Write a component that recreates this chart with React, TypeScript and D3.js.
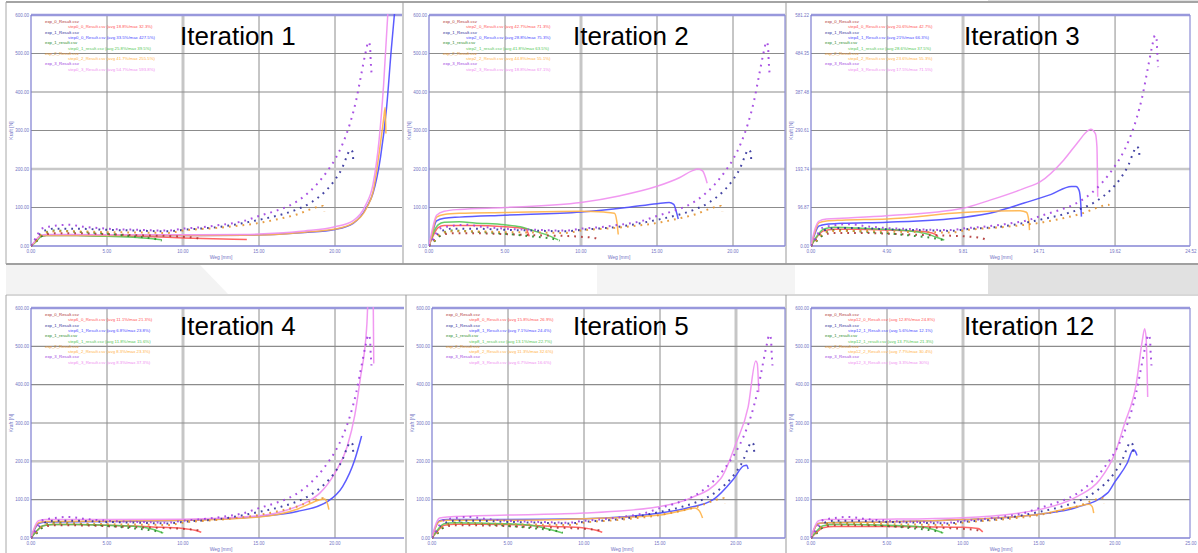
import React from 'react';
import * as d3 from 'd3';

type Pt = [number, number];

// ---- experimental curves (identical in every iteration) ----
const expRed: Pt[] = [[0, 0], [0.3, 12], [0.8, 28], [1.5, 33], [3, 33], [5, 31], [7, 28], [9, 26], [10, 24], [11, 20], [11.3, 15]];
const expNavy: Pt[] = [[0, 0], [0.3, 15], [0.8, 38], [1.5, 45], [3, 45], [5, 42], [7, 40], [9, 38], [10, 42], [12.5, 50], [15, 68], [16.5, 82], [17.5, 95], [18.5, 115], [19.3, 140], [20, 172], [20.5, 205], [20.8, 235], [21, 250], [21.15, 245], [21.2, 222]];
const expGreen: Pt[] = [[0, 0], [0.3, 10], [1, 35], [1.5, 40], [3, 37], [5, 32], [6.5, 26], [7.5, 22], [8.2, 18], [8.6, 14]];
const expOrange: Pt[] = [[0, 0], [0.3, 12], [0.8, 33], [1.5, 38], [3, 38], [5, 36], [7, 35], [9, 34], [10, 40], [12.5, 48], [15, 60], [16.5, 72], [17.5, 82], [18.5, 97], [19, 103], [19.2, 104], [19.3, 90]];
const expPurple: Pt[] = [[0, 0], [0.3, 20], [0.7, 45], [1.5, 52], [2.5, 55], [3.5, 50], [5, 45], [7, 42], [9, 40], [10, 45], [11, 48], [12.5, 55], [14, 65], [15, 78], [16, 90], [17, 105], [18, 130], [18.8, 160], [19.5, 195], [20, 225], [20.5, 265], [21, 320], [21.4, 380], [21.7, 440], [22, 500], [22.2, 530], [22.3, 520], [22.35, 480], [22.4, 450]];
const expNames = ['exp_0_Result.csv', 'exp_1_Result.csv', 'exp_1_result.csv', 'exp_2_Result.csv', 'exp_3_Result.csv'];

// ---- simulation curves per iteration: red, blue, green, orange, pink ----
const it1Red: Pt[] = [[0, 0], [0.3, 12], [0.6, 25], [1, 27], [3, 27], [6, 26], [8, 24], [10, 21], [12, 19], [14.2, 17]];
const it1Blue: Pt[] = [[0, 0], [0.3, 12], [0.6, 25], [1, 28], [3, 28], [6, 27], [10, 27], [14, 28], [16, 30], [18, 35], [20, 43], [21.2, 59], [22.1, 102], [22.5, 137], [23, 232], [23.4, 362], [23.7, 509], [23.95, 620]];
const it1Green: Pt[] = [[0, 0], [0.3, 10], [0.7, 25], [1, 27], [3, 27], [5, 25], [7, 22], [8, 19], [8.6, 16]];
const it1Orange: Pt[] = [[0, 0], [0.3, 12], [0.6, 25], [1, 28], [3, 28], [6, 27], [10, 27], [14, 28], [16, 30], [18, 36], [20, 44], [21.2, 60], [22.1, 100], [22.5, 140], [22.9, 240], [23.2, 330], [23.3, 360], [23.35, 292]];
const it1Pink: Pt[] = [[0, 0], [0.3, 14], [0.6, 27], [1, 30], [3, 30], [6, 29], [10, 29], [14, 30], [16, 33], [18, 39], [20, 50], [21.2, 66], [22, 105], [22.5, 160], [22.9, 275], [23.2, 420], [23.5, 620]];

const it2Red: Pt[] = [[0, 0], [0.2, 20], [0.6, 48], [1, 53], [3, 53], [5, 50], [6, 47], [6.4, 44], [6.5, 35], [6.6, 25]];
const it2Blue: Pt[] = [[0, 0], [0.2, 30], [0.5, 65], [1, 72], [2, 75], [5, 80], [10, 88], [13, 100], [15, 110], [15.8, 113], [16.1, 108], [16.3, 85], [16.4, 70]];
const it2Green: Pt[] = [[0, 0], [0.2, 25], [0.6, 55], [1, 62], [2, 63], [3, 60], [5, 55], [6, 50], [7, 38], [8, 25], [8.5, 16]];
const it2Orange: Pt[] = [[0, 0], [0.2, 30], [0.5, 75], [1, 82], [2, 85], [5, 87], [10, 90], [11.5, 88], [12.2, 85], [12.35, 65], [12.45, 30]];
const it2Pink: Pt[] = [[0, 0], [0.2, 40], [0.5, 80], [1, 90], [2, 95], [5, 100], [10, 113], [12.5, 130], [15, 155], [16.5, 178], [17.3, 195], [17.7, 200], [18, 195], [18.3, 163]];

const it3Red: Pt[] = [[0, 0], [0.3, 18], [0.8, 38], [1.5, 42], [3, 42], [4.9, 40], [6.5, 38], [7.5, 35], [8, 30], [8.2, 23]];
const it3Blue: Pt[] = [[0, 0], [0.2, 25], [0.5, 50], [1, 55], [2, 57], [4.9, 60], [9.8, 72], [12, 87], [13.75, 108], [15.5, 130], [16.8, 150], [17.1, 150], [17.3, 140], [17.4, 110], [17.45, 74]];
const it3Green: Pt[] = [[0, 0], [0.3, 20], [0.8, 42], [1.5, 47], [3, 45], [4.9, 42], [6.5, 37], [7.5, 30], [8.1, 22], [8.6, 15]];
const it3Orange: Pt[] = [[0, 0], [0.2, 28], [0.5, 58], [1, 63], [2, 65], [4.9, 68], [9.8, 84], [12, 88], [13.5, 89], [13.9, 85], [14.05, 65], [14.1, 40]];
const it3Pink: Pt[] = [[0, 0], [0.2, 35], [0.5, 62], [1, 68], [2, 70], [4.9, 76], [9.8, 95], [11.6, 116], [13.75, 145], [14.8, 162], [16.3, 216], [17.3, 265], [17.8, 288], [18.05, 294], [18.35, 283], [18.45, 250], [18.5, 124]];

const it4Red: Pt[] = [[0, 0], [0.3, 15], [0.8, 32], [1.5, 35], [3, 35], [5, 33], [8, 29], [10, 25], [10.8, 20], [11.2, 15]];
const it4Blue: Pt[] = [[0, 0], [0.2, 20], [0.5, 38], [1, 42], [5, 43], [10, 46], [15, 56], [17.5, 69], [19.5, 95], [20.5, 134], [21.3, 204], [21.75, 266]];
const it4Green: Pt[] = [[0, 0], [0.3, 15], [0.8, 32], [1.5, 35], [3, 35], [5, 33], [7, 30], [8, 23], [8.7, 13]];
const it4Orange: Pt[] = [[0, 0], [0.2, 22], [0.5, 40], [1, 43], [5, 44], [10, 46], [15, 55], [17.5, 75], [18.5, 92], [19, 100], [19.3, 102], [19.5, 90], [19.6, 74]];
const it4Pink: Pt[] = [[0, 0], [0.2, 25], [0.5, 45], [1, 48], [5, 48], [10, 49], [15, 58], [17, 75], [18.2, 95], [19, 117], [20, 170], [20.8, 238], [21.3, 320], [21.65, 412], [22.1, 559], [22.25, 690], [22.5, 690], [22.55, 455]];

const it5Red: Pt[] = [[0, 0], [0.3, 15], [0.8, 33], [1.5, 36], [3, 36], [5, 35], [8, 30], [10, 26], [10.8, 20], [11.2, 15]];
const it5Blue: Pt[] = [[0, 0], [0.2, 25], [0.5, 45], [1, 48], [5, 48], [10, 50], [15, 65], [17, 80], [18.5, 100], [19.8, 152], [20.5, 188], [20.7, 190], [20.8, 180]];
const it5Green: Pt[] = [[0, 0], [0.3, 18], [0.8, 37], [1.5, 40], [3, 39], [5, 37], [6.5, 33], [7.5, 25], [8.6, 13]];
const it5Orange: Pt[] = [[0, 0], [0.2, 25], [0.5, 43], [1, 46], [5, 46], [10, 50], [15, 60], [16.5, 72], [17.3, 78], [17.6, 70], [17.8, 52]];
const it5Pink: Pt[] = [[0, 0], [0.2, 30], [0.5, 52], [1, 55], [5, 60], [10, 65], [15, 82], [17, 104], [19, 155], [20, 247], [20.8, 342], [21.3, 462], [21.4, 455], [21.5, 381]];

const it12Red: Pt[] = [[0, 0], [0.3, 12], [0.8, 27], [1.5, 30], [3, 30], [5, 30], [8, 29], [10, 28], [11, 25], [11.3, 16]];
const it12Blue: Pt[] = [[0, 0], [0.2, 22], [0.5, 38], [1, 40], [5, 42], [10, 48], [15, 62], [17.5, 80], [19.5, 117], [20, 147], [20.8, 195], [21.2, 230], [21.35, 225], [21.45, 215]];
const it12Green: Pt[] = [[0, 0], [0.3, 15], [0.8, 32], [1.5, 35], [3, 35], [5, 33], [7, 30], [8, 23], [8.7, 13]];
const it12Orange: Pt[] = [[0, 0], [0.2, 22], [0.5, 38], [1, 40], [5, 42], [10, 48], [15, 62], [17.5, 82], [18.3, 88], [18.5, 82], [18.6, 65]];
const it12Pink: Pt[] = [[0, 0], [0.2, 25], [0.5, 45], [1, 48], [5, 49], [10, 53], [15, 74], [17.5, 108], [19, 152], [20, 221], [20.6, 295], [21.4, 403], [21.8, 516], [21.95, 546], [22.05, 520], [22.15, 368]];

const simNames1 = ['step0_0_Result.csv (avg 18.8%/max 32.3%)', 'step0_0_Result.csv (avg 33.5%/max 427.5%)', 'step0_1_result.csv (avg 25.8%/max 39.5%)', 'step0_2_Result.csv (avg 41.7%/max 255.5%)', 'step0_3_Result.csv (avg 54.7%/max 593.8%)'];
const simNames2 = ['step2_0_Result.csv (avg 42.7%/max 71.3%)', 'step2_0_Result.csv (avg 28.8%/max 75.3%)', 'step2_1_result.csv (avg 41.8%/max 63.5%)', 'step2_2_Result.csv (avg 44.8%/max 55.1%)', 'step2_3_Result.csv (avg 18.8%/max 67.1%)'];
const simNames3 = ['step4_0_Result.csv (avg 20.6%/max 42.7%)', 'step4_1_Result.csv (avg 21%/max 66.3%)', 'step4_1_result.csv (avg 28.6%/max 37.5%)', 'step4_2_Result.csv (avg 23.6%/max 55.3%)', 'step4_3_Result.csv (avg 17.5%/max 71.5%)'];
const simNames4 = ['step6_0_Result.csv (avg 11.1%/max 21.3%)', 'step6_1_Result.csv (avg 6.8%/max 23.8%)', 'step6_1_result.csv (avg 11.8%/max 15.6%)', 'step6_2_Result.csv (avg 8.3%/max 23.3%)', 'step6_3_Result.csv (avg 8.3%/max 37.3%)'];
const simNames5 = ['step8_0_Result.csv (avg 15.8%/max 26.9%)', 'step8_1_Result.csv (avg 7.1%/max 24.4%)', 'step8_1_result.csv (avg 13.1%/max 22.7%)', 'step8_2_Result.csv (avg 11.3%/max 32.6%)', 'step8_3_Result.csv (avg 6.7%/max 16.6%)'];
const simNames12 = ['step12_0_Result.csv (avg 12.8%/max 24.8%)', 'step12_1_Result.csv (avg 5.6%/max 12.1%)', 'step12_1_result.csv (avg 13.7%/max 21.3%)', 'step12_2_Result.csv (avg 7.7%/max 30.4%)', 'step12_3_Result.csv (avg 3.3%/max 30%)'];

const titles = ['Iteration 1', 'Iteration 2', 'Iteration 3', 'Iteration 4', 'Iteration 5', 'Iteration 12'];
const simSets = [
  [it1Red, it1Blue, it1Green, it1Orange, it1Pink],
  [it2Red, it2Blue, it2Green, it2Orange, it2Pink],
  [it3Red, it3Blue, it3Green, it3Orange, it3Pink],
  [it4Red, it4Blue, it4Green, it4Orange, it4Pink],
  [it5Red, it5Blue, it5Green, it5Orange, it5Pink],
  [it12Red, it12Blue, it12Green, it12Orange, it12Pink],
];
const simNameSets = [simNames1, simNames2, simNames3, simNames4, simNames5, simNames12];

const xTicksStd = [0, 5, 10, 15, 20, 25];
const yTicksStd = [0, 100, 200, 300, 400, 500, 600];
const xTicksIt3 = [0, 4.9, 9.81, 14.71, 19.62, 24.52];
const yTicksIt3 = [0, 96.87, 193.74, 290.61, 387.48, 484.35, 581.22];

const expColors = ['#b03434', '#30309a', '#2a8a2a', '#e39430', '#a040e0'];
const simColors = ['#ff5555', '#4a4aff', '#55c855', '#ffb347', '#f08ef0'];

// panel geometry
const rows = [
  { frameTop: 2, frameBottom: 264, top: 15, bottom: 246, titleY: 45 },
  { frameTop: 295, frameBottom: 553, top: 308, bottom: 538, titleY: 335 },
];
const layout = [
  { row: 0, x0: 6, left: 31, right: 402, titleX: 180, rightBorder: false, softX: 2, xTicks: xTicksStd, yTicks: yTicksStd },
  { row: 0, x0: 403, left: 429, right: 785, titleX: 573, rightBorder: true, softX: 2, xTicks: xTicksStd, yTicks: yTicksStd },
  { row: 0, x0: 786, left: 811, right: 1190, titleX: 964, rightBorder: true, softX: 2, xTicks: xTicksIt3, yTicks: yTicksIt3 },
  { row: 1, x0: 6, left: 31, right: 404, titleX: 180, rightBorder: false, softX: 2, xTicks: xTicksStd, yTicks: yTicksStd },
  { row: 1, x0: 406, left: 432, right: 785, titleX: 573, rightBorder: true, softX: 4, xTicks: xTicksStd, yTicks: yTicksStd },
  { row: 1, x0: 786, left: 811, right: 1190, titleX: 964, rightBorder: true, softX: 2, xTicks: xTicksStd, yTicks: yTicksStd },
];

const FONT = '"Liberation Sans", Arial, sans-serif';
const AXIS_TEXT = '#7474c4';

const Panel = ({ idx }: { idx: number }) => {
  const L = layout[idx];
  const R = rows[L.row];
  const xMax = L.xTicks[L.xTicks.length - 1];
  const yMax = L.yTicks[L.yTicks.length - 1];
  const x = d3.scaleLinear().domain([0, xMax]).range([L.left, L.left + 380]);
  const y = d3.scaleLinear().domain([0, yMax]).range([R.bottom, R.top]);
  const line = d3.line<Pt>().x((d) => x(d[0])).y((d) => y(d[1])).curve(d3.curveMonotoneX);
  const clipId = `clip${idx}`;
  const sims = simSets[idx];
  const exps = [expRed, expNavy, expGreen, expOrange, expPurple];
  const legendY0 = R.top + 8;

  return (
    <g>
      <defs>
        <clipPath id={clipId}>
          <rect x={L.left} y={R.top - 1} width={L.right - L.left} height={R.bottom - R.top + 2} />
        </clipPath>
      </defs>
      {/* grid */}
      {L.xTicks.slice(1).map((t, i) =>
        x(t) < L.right - 1 ? (
          <line key={'gx' + i} x1={x(t)} x2={x(t)} y1={R.top} y2={R.bottom}
            stroke={i + 1 === L.softX ? '#c6c6c6' : '#8c8c8c'} strokeWidth={i + 1 === L.softX ? 3 : 1} />
        ) : null
      )}
      {L.yTicks.slice(1, -1).map((t, i) => (
        <line key={'gy' + i} x1={L.left} x2={L.right} y1={y(t)} y2={y(t)}
          stroke={i + 1 === 2 ? '#c8c8c8' : '#8c8c8c'} strokeWidth={i + 1 === 2 ? 2.5 : 1.2} />
      ))}
      {/* borders */}
      <line x1={L.left} x2={L.right} y1={R.top} y2={R.top} stroke="#9898dc" strokeWidth={2.5} />
      <line x1={L.left} x2={L.right} y1={R.bottom} y2={R.bottom} stroke="#8484d4" strokeWidth={1.5} />
      <line x1={L.left} x2={L.left} y1={R.top} y2={R.bottom} stroke="#7c7cd0" strokeWidth={1.2} />
      {L.rightBorder && <line x1={L.right} x2={L.right} y1={R.top} y2={R.bottom} stroke="#8c8cd6" strokeWidth={1.2} />}

      {/* tick labels */}
      {L.yTicks.map((t, i) => (
        <text key={'yl' + i} x={L.left - 2} y={y(t) + 1.5} fontSize={4.5} textAnchor="end" fill={AXIS_TEXT} fontFamily={FONT}>
          {t.toFixed(2)}
        </text>
      ))}
      {L.xTicks.map((t, i) =>
        x(t) <= L.right + 2 ? (
          <text key={'xl' + i} x={x(t)} y={R.bottom + 7} fontSize={4.5} textAnchor="middle" fill={AXIS_TEXT} fontFamily={FONT}>
            {t.toFixed(2)}
          </text>
        ) : null
      )}
      <text x={L.left + 190} y={R.bottom + 13} fontSize={5} textAnchor="middle" fill={AXIS_TEXT} fontFamily={FONT}>Weg [mm]</text>
      <text transform={`translate(${L.left - 18},${(R.top + R.bottom) / 2}) rotate(-90)`} fontSize={5} textAnchor="middle"
        fill={AXIS_TEXT} fontFamily={FONT}>Kraft [N]</text>

      {/* curves */}
      <g clipPath={`url(#${clipId})`}>
        {sims.map((s, i) => (
          <path key={'s' + i} d={line(s) || ''} fill="none" stroke={simColors[i]} strokeWidth={1.5} strokeOpacity={0.9} />
        ))}
        {exps.map((s, i) => (
          <path key={'e' + i} d={line(s) || ''} fill="none" stroke={expColors[i]} strokeWidth={2}
            strokeDasharray="1.8 5" strokeOpacity={0.9} />
        ))}
      </g>

      {/* legend */}
      {expNames.map((n, i) => (
        <g key={'lg' + i}>
          <text x={L.left + 14} y={legendY0 + i * 10.6} fontSize={4.3} fill={expColors[i]} fontFamily={FONT}>{n}</text>
          <text x={L.left + 37} y={legendY0 + 5.3 + i * 10.6} fontSize={4.3} fill={simColors[i]} fontFamily={FONT}>{simNameSets[idx][i]}</text>
        </g>
      ))}

      {/* title */}
      <text x={L.titleX} y={R.titleY} fontSize={26} fill="#000" fontFamily={FONT}>{titles[idx]}</text>
    </g>
  );
};

const App = () => {
  return (
    <svg width={1198} height={553} style={{ position: 'absolute', left: 0, top: 0, background: '#fff' }}>
      <rect x={0} y={0} width={1198} height={553} fill="#fff" />
      {/* gaps between screenshot rows */}
      <polygon points="6,265 200,265 228,294 6,294" fill="#f3f3f3" />
      <rect x={597} y={265} width={198} height={29} fill="#f4f4f4" />
      <rect x={988} y={265} width={210} height={29} fill="#e1e1e1" />
      <rect x={988} y={0} width={210} height={2} fill="#e1e1e1" />
      {/* frames */}
      <line x1={6} x2={1198} y1={2} y2={2} stroke="#a4a4a4" strokeWidth={2} />
      <line x1={6} x2={1198} y1={264} y2={264} stroke="#a0a0a0" strokeWidth={2} />
      <line x1={6} x2={1198} y1={295} y2={295} stroke="#b0b0b0" strokeWidth={1} />
      <line x1={6} x2={6} y1={2} y2={264} stroke="#a8a8a8" strokeWidth={1} />
      <line x1={6} x2={6} y1={295} y2={553} stroke="#a8a8a8" strokeWidth={1} />
      <line x1={403} x2={403} y1={2} y2={264} stroke="#999" strokeWidth={1} />
      <line x1={786} x2={786} y1={2} y2={264} stroke="#999" strokeWidth={1} />
      <line x1={406} x2={406} y1={295} y2={553} stroke="#999" strokeWidth={1} />
      <line x1={786} x2={786} y1={295} y2={553} stroke="#999" strokeWidth={1} />
      {layout.map((_, i) => (
        <Panel key={i} idx={i} />
      ))}
    </svg>
  );
};

export default App;
